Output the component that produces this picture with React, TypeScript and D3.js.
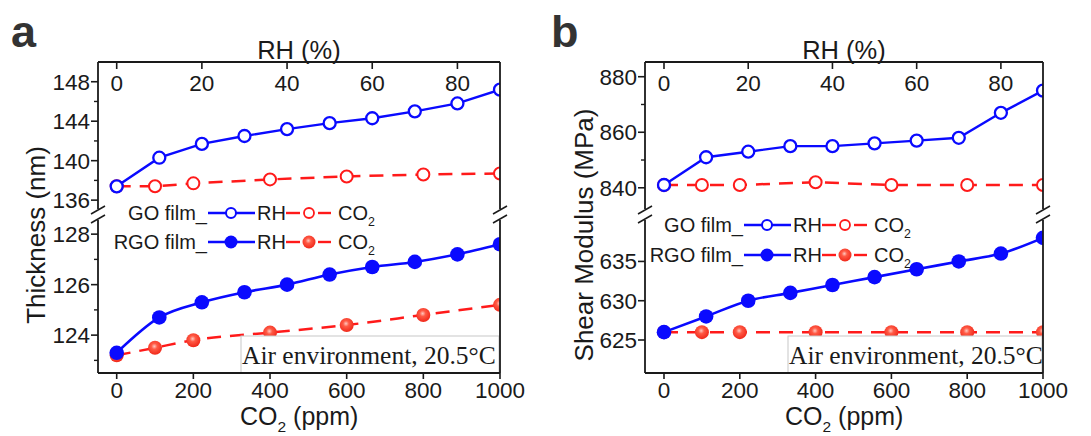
import React from 'react';
import * as d3 from 'd3';

// ---- data ----
const co2Ppm = [0, 100, 200, 400, 600, 800, 1000];
const rhPct = [0, 10, 20, 30, 40, 50, 60, 70, 80, 90];

const thkGoRh = [137.4, 140.3, 141.7, 142.5, 143.2, 143.8, 144.3, 145.0, 145.8, 147.2];
const thkGoCo2 = [137.4, 137.4, 137.7, 138.1, 138.4, 138.6, 138.7];
const thkRgoRh = [123.3, 124.7, 125.3, 125.7, 126.0, 126.4, 126.7, 126.9, 127.2, 127.6];
const thkRgoCo2 = [123.2, 123.5, 123.8, 124.1, 124.4, 124.8, 125.2];

const smGoRh = [841, 851, 853, 855, 855, 856, 857, 858, 867, 875];
const smGoCo2 = [841, 841, 841, 842, 841, 841, 841];
const smRgoRh = [626, 628, 630, 631, 632, 633, 634, 635, 636, 638];
const smRgoCo2 = [626, 626, 626, 626, 626, 626, 626];

const co2Ticks = [0, 200, 400, 600, 800, 1000];
const rhTicks = [0, 20, 40, 60, 80];
const thkUpperTicks = [136, 140, 144, 148];
const thkUpperMinor = [138, 142, 146];
const thkLowerTicks = [124, 126, 128];
const thkLowerMinor = [123, 125, 127];
const smUpperTicks = [840, 860, 880];
const smUpperMinor = [850, 870];
const smLowerTicks = [625, 630, 635];
const smLowerMinor: number[] = [];

const SANS = '"Liberation Sans", Arial, sans-serif';
const SERIF = '"Liberation Serif", "Times New Roman", serif';
const BLUE = '#0a0aff';
const RED = '#ff1a1a';
const INK = '#1a1a1a';

type PanelCfg = {
  id: string;
  letter: string;
  letterX: number;
  left: number;
  right: number;
  x0: number;
  yLabel: string;
  yLabelX: number;
  upperDomain: [number, number];
  lowerDomain: [number, number];
  upperTicks: number[];
  upperMinor: number[];
  lowerTicks: number[];
  lowerMinor: number[];
  goRh: number[];
  goCo2: number[];
  rgoRh: number[];
  rgoCo2: number[];
  legendEnd: number;
  legendY1: number;
  legendY2: number;
};

const TOP = 62;
const BOTTOM = 373;
const BREAK_TOP = 210;
const BREAK_BOT = 219;

function Co2Text({ x, y, size, anchor = 'start', suffix = '' }: any) {
  return (
    <text x={x} y={y} fontSize={size} fontFamily={SANS} fill={INK} textAnchor={anchor}>
      CO
      <tspan fontSize={size * 0.62} dy={size * 0.28}>2</tspan>
      <tspan dy={-size * 0.28}>{suffix}</tspan>
    </text>
  );
}

function Panel({ c }: { c: PanelCfg }) {
  const x = d3.scaleLinear().domain([0, 1000]).range([c.x0, c.right]);
  const xr = d3.scaleLinear().domain([0, 90]).range([c.x0, c.right]);
  const yu = d3.scaleLinear().domain(c.upperDomain).range([BREAK_TOP, TOP]);
  const yl = d3.scaleLinear().domain(c.lowerDomain).range([BOTTOM, BREAK_BOT]);

  const lineLin = d3.line<[number, number]>().x((d) => d[0]).y((d) => d[1]);
  const lineSmooth = d3
    .line<[number, number]>()
    .x((d) => d[0])
    .y((d) => d[1])
    .curve(d3.curveMonotoneX);

  const goRhPts: [number, number][] = rhPct.map((r, i) => [xr(r), yu(c.goRh[i])]);
  const goCo2Pts: [number, number][] = co2Ppm.map((p, i) => [x(p), yu(c.goCo2[i])]);
  const rgoRhPts: [number, number][] = rhPct.map((r, i) => [xr(r), yl(c.rgoRh[i])]);
  const rgoCo2Pts: [number, number][] = co2Ppm.map((p, i) => [x(p), yl(c.rgoCo2[i])]);

  const L = c.left;
  const R = c.right;
  const midX = (L + R) / 2;
  const clipId = `clip-${c.id}`;
  const gradId = `ball-${c.id}`;

  const breakMark = (bx: number, by: number, key: string) => (
    <line key={key} x1={bx - 7} y1={by + 4} x2={bx + 7} y2={by - 4} stroke={INK} strokeWidth={1.6} />
  );

  const legendRow = (y: number, label: string, filled: boolean) => {
    const e = c.legendEnd;
    return (
      <g>
        <text x={e} y={y} dy="0.35em" fontSize={20} fontFamily={SANS} fill={INK} textAnchor="end">
          {label}
        </text>
        <line x1={e + 1} x2={e + 48} y1={y} y2={y} stroke={BLUE} strokeWidth={2.4} />
        {filled ? (
          <circle cx={e + 24} cy={y} r={6.5} fill={BLUE} />
        ) : (
          <circle cx={e + 24} cy={y} r={5} fill="#fff" stroke={BLUE} strokeWidth={2} />
        )}
        <text x={e + 50} y={y} dy="0.35em" fontSize={20} fontFamily={SANS} fill={INK}>
          RH
        </text>
        <line x1={e + 79} x2={e + 93} y1={y} y2={y} stroke={RED} strokeWidth={2.4} />
        <line x1={e + 111} x2={e + 124} y1={y} y2={y} stroke={RED} strokeWidth={2.4} />
        {filled ? (
          <circle cx={e + 102} cy={y} r={6.5} fill={`url(#${gradId})`} />
        ) : (
          <circle cx={e + 102} cy={y} r={5} fill="#fff" stroke={RED} strokeWidth={1.8} />
        )}
        <Co2Text x={e + 131} y={y + 7} size={20} />
      </g>
    );
  };

  return (
    <g>
      <defs>
        <clipPath id={clipId}>
          <rect x={L} y={TOP} width={R - L} height={BOTTOM - TOP} />
        </clipPath>
        <radialGradient id={gradId} cx="0.45" cy="0.4" r="0.6">
          <stop offset="0%" stopColor="#ffc8c0" />
          <stop offset="35%" stopColor="#ff5a45" />
          <stop offset="100%" stopColor="#f0281a" />
        </radialGradient>
      </defs>

      <text x={c.letterX} y={47} fontSize={45} fontWeight="bold" fontFamily={SANS} fill="#333">
        {c.letter}
      </text>

      <rect x={L} y={TOP} width={R - L} height={BOTTOM - TOP} fill="#fff" />

      {/* series */}
      <g clipPath={`url(#${clipId})`}>
        <path d={lineLin(goCo2Pts) || ''} fill="none" stroke={RED} strokeWidth={2.5} strokeDasharray="14,9" />
        <path d={lineSmooth(rgoCo2Pts) || ''} fill="none" stroke={RED} strokeWidth={2.5} strokeDasharray="14,9" />
        {goCo2Pts.map((p, i) => (
          <circle key={`gc${i}`} cx={p[0]} cy={p[1]} r={6} fill="#fff" stroke={RED} strokeWidth={2} />
        ))}
        {rgoCo2Pts.map((p, i) => (
          <circle key={`rc${i}`} cx={p[0]} cy={p[1]} r={7} fill={`url(#${gradId})`} />
        ))}
        <path d={lineLin(goRhPts) || ''} fill="none" stroke={BLUE} strokeWidth={2.4} />
        <path d={lineSmooth(rgoRhPts) || ''} fill="none" stroke={BLUE} strokeWidth={2.6} />
        {goRhPts.map((p, i) => (
          <circle key={`gr${i}`} cx={p[0]} cy={p[1]} r={6} fill="#fff" stroke={BLUE} strokeWidth={2.3} />
        ))}
        {rgoRhPts.map((p, i) => (
          <circle key={`rr${i}`} cx={p[0]} cy={p[1]} r={7.3} fill={BLUE} />
        ))}
      </g>

      {/* annotation box */}
      <rect x={L + 143} y={336} width={R - L - 144} height={BOTTOM - 336} fill="#fff" stroke="#c8c8c8" strokeWidth={1} />
      <text x={L + 144} y={364} fontSize={25.5} fontFamily={SERIF} fill={INK}>
        Air environment, 20.5°C
      </text>

      {/* frame */}
      <g stroke={INK} strokeWidth={1.8} fill="none">
        <line x1={L} x2={R} y1={TOP} y2={TOP} />
        <line x1={L} x2={R} y1={BOTTOM} y2={BOTTOM} />
        <line x1={L} x2={L} y1={TOP} y2={BREAK_TOP - 1} />
        <line x1={L} x2={L} y1={BREAK_BOT + 1} y2={BOTTOM} />
        <line x1={R} x2={R} y1={TOP} y2={BREAK_TOP - 1} />
        <line x1={R} x2={R} y1={BREAK_BOT + 1} y2={BOTTOM} />
      </g>
      {breakMark(L, BREAK_TOP, 'b1')}
      {breakMark(L, BREAK_BOT, 'b2')}
      {breakMark(R, BREAK_TOP, 'b3')}
      {breakMark(R, BREAK_BOT, 'b4')}

      {/* left axis ticks */}
      {c.upperTicks.map((t) => (
        <g key={`ut${t}`}>
          <line x1={L - 7} x2={L} y1={yu(t)} y2={yu(t)} stroke={INK} strokeWidth={1.6} />
          <text x={L - 8} y={yu(t)} dy="0.35em" fontSize={22.5} fontFamily={SANS} fill={INK} textAnchor="end">
            {t}
          </text>
        </g>
      ))}
      {c.upperMinor.map((t) => (
        <line key={`um${t}`} x1={L - 4} x2={L} y1={yu(t)} y2={yu(t)} stroke={INK} strokeWidth={1.4} />
      ))}
      {c.lowerTicks.map((t) => (
        <g key={`lt${t}`}>
          <line x1={L - 7} x2={L} y1={yl(t)} y2={yl(t)} stroke={INK} strokeWidth={1.6} />
          <text x={L - 8} y={yl(t)} dy="0.35em" fontSize={22.5} fontFamily={SANS} fill={INK} textAnchor="end">
            {t}
          </text>
        </g>
      ))}
      {c.lowerMinor.map((t) => (
        <line key={`lm${t}`} x1={L - 4} x2={L} y1={yl(t)} y2={yl(t)} stroke={INK} strokeWidth={1.4} />
      ))}

      {/* bottom axis */}
      {co2Ticks.map((t) => (
        <g key={`bt${t}`}>
          <line x1={x(t)} x2={x(t)} y1={BOTTOM} y2={BOTTOM + 6} stroke={INK} strokeWidth={1.6} />
          <text x={x(t)} y={390} dy="0.35em" fontSize={22.5} fontFamily={SANS} fill={INK} textAnchor="middle">
            {t}
          </text>
        </g>
      ))}
      <Co2Text x={midX - 59} y={425} size={25} suffix=" (ppm)" />

      {/* top axis */}
      {rhTicks.map((t) => (
        <g key={`tt${t}`}>
          <line x1={xr(t)} x2={xr(t)} y1={TOP} y2={TOP + 7} stroke={INK} strokeWidth={1.6} />
          <text x={xr(t)} y={83} dy="0.35em" fontSize={22.5} fontFamily={SANS} fill={INK} textAnchor="middle">
            {t}
          </text>
        </g>
      ))}
      <text x={midX} y={50} dy="0.35em" fontSize={25.5} fontFamily={SANS} fill={INK} textAnchor="middle">
        RH (%)
      </text>

      {/* y label */}
      <text
        transform={`translate(${c.yLabelX},235) rotate(-90)`}
        dy="0.35em"
        fontSize={26}
        fontFamily={SANS}
        fill={INK}
        textAnchor="middle"
      >
        {c.yLabel}
      </text>

      {legendRow(c.legendY1, 'GO film_', false)}
      {legendRow(c.legendY2, 'RGO film_', true)}
    </g>
  );
}

const panelA: PanelCfg = {
  id: 'a',
  letter: 'a',
  letterX: 11,
  left: 98,
  right: 500,
  x0: 116.7,
  yLabel: 'Thickness (nm)',
  yLabelX: 36,
  upperDomain: [135, 150],
  lowerDomain: [122.5, 128.6],
  upperTicks: thkUpperTicks,
  upperMinor: thkUpperMinor,
  lowerTicks: thkLowerTicks,
  lowerMinor: thkLowerMinor,
  goRh: thkGoRh,
  goCo2: thkGoCo2,
  rgoRh: thkRgoRh,
  rgoCo2: thkRgoCo2,
  legendEnd: 207,
  legendY1: 213,
  legendY2: 242,
};

const panelB: PanelCfg = {
  id: 'b',
  letter: 'b',
  letterX: 551,
  left: 645,
  right: 1043,
  x0: 664,
  yLabel: 'Shear Modulus (MPa)',
  yLabelX: 584,
  upperDomain: [832, 885.3],
  lowerDomain: [620.8, 640.4],
  upperTicks: smUpperTicks,
  upperMinor: smUpperMinor,
  lowerTicks: smLowerTicks,
  lowerMinor: smLowerMinor,
  goRh: smGoRh,
  goCo2: smGoCo2,
  rgoRh: smRgoRh,
  rgoCo2: smRgoCo2,
  legendEnd: 743,
  legendY1: 225,
  legendY2: 255,
};

export default function App() {
  return (
    <svg
      width={1091}
      height={436}
      viewBox="0 0 1091 436"
      style={{ position: 'absolute', left: 0, top: 0, background: '#fff' }}
    >
      <Panel c={panelA} />
      <Panel c={panelB} />
    </svg>
  );
}
